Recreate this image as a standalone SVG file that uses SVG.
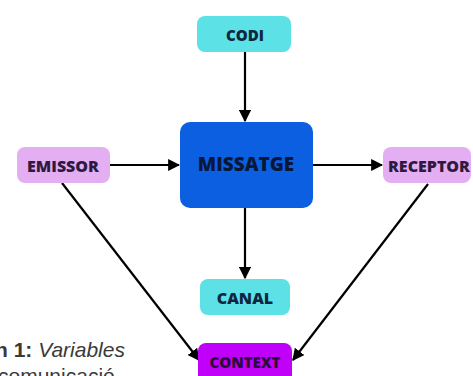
<svg xmlns="http://www.w3.org/2000/svg" width="473" height="376" viewBox="0 0 473 376">
<defs>
<style>
.lbl{font-family:"Open Sans","Liberation Sans",sans-serif;font-weight:800;text-anchor:middle;dominant-baseline:central}
.edge{stroke:#000;stroke-width:2.2;fill:none;marker-end:url(#ah)}
.cap{font-family:"Liberation Sans",Arial,sans-serif;font-size:21px;fill:#3a3a3a}
</style>
<marker id="ah" viewBox="0 0 10 10" refX="9" refY="5" markerWidth="5.5" markerHeight="5.5" orient="auto" markerUnits="strokeWidth">
<path d="M0,0 L10,5 L0,10 Z" fill="#000"/>
</marker>
</defs>
<rect width="473" height="376" fill="#fff"/>
<g id="caption">
<text class="cap" x="-5" y="357"><tspan font-weight="700">n 1: </tspan><tspan font-style="italic">Variables</tspan></text>
<text class="cap" x="-2" y="383">comunicació</text>
</g>
<g id="connectors">
<line class="edge" x1="245" y1="52" x2="245" y2="121"/>
<line class="edge" x1="110" y1="165" x2="179" y2="165"/>
<line class="edge" x1="313" y1="165" x2="382" y2="165"/>
<line class="edge" x1="245" y1="208" x2="245" y2="278"/>
<line class="edge" x1="62" y1="183" x2="199" y2="360"/>
<line class="edge" x1="428" y1="184" x2="293" y2="360"/>
</g>
<g id="codi">
<rect x="197" y="16" width="94" height="36" rx="8" fill="#5ce1e6"/>
<text class="lbl" x="245" y="35" font-size="15" fill="#102640">CODI</text>
</g>
<g id="missatge">
<rect x="180" y="122" width="133" height="86" rx="10" fill="#0b5fe0"/>
<text class="lbl" x="246" y="164" font-size="19" fill="#0a1838">MISSATGE</text>
</g>
<g id="emissor">
<rect x="17" y="147" width="93" height="36" rx="8" fill="#e4aef3"/>
<text class="lbl" x="63" y="166" font-size="16" fill="#2e1a3e">EMISSOR</text>
</g>
<g id="receptor">
<rect x="383" y="147" width="88" height="36" rx="8" fill="#e4aef3"/>
<text class="lbl" x="429" y="166" font-size="16" fill="#2e1a3e">RECEPTOR</text>
</g>
<g id="canal">
<rect x="200" y="279" width="90" height="36" rx="8" fill="#5ce1e6"/>
<text class="lbl" x="245" y="298" font-size="16" fill="#102640">CANAL</text>
</g>
<g id="context">
<rect x="198" y="343" width="94" height="40" rx="8" fill="#c000f8"/>
<text class="lbl" x="245" y="362" font-size="15" fill="#2a0b3a">CONTEXT</text>
</g>
</svg>
